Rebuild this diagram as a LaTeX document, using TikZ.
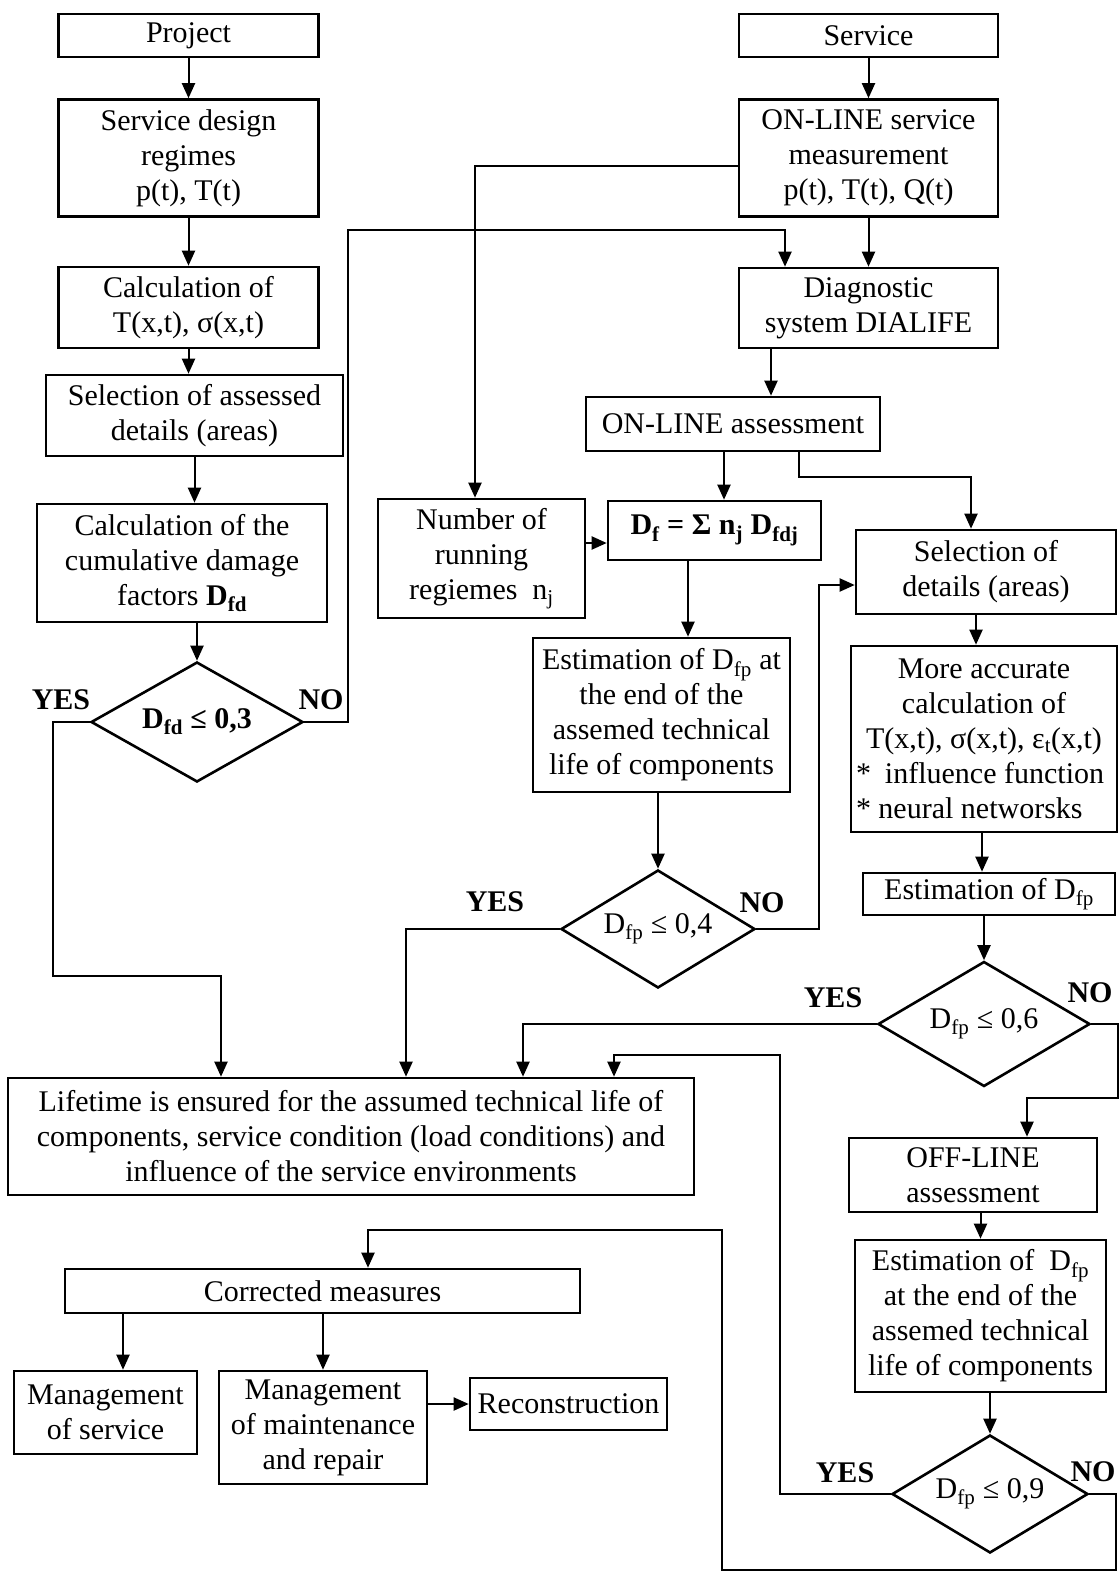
\documentclass[tikz,border=0pt]{standalone}
\usepackage{fontspec}
\setmainfont{Liberation Serif}
\usetikzlibrary{arrows.meta,positioning,calc,shapes.geometric}

\begin{document}
\begin{tikzpicture}[x=1pt,y=-1pt,>={Triangle[length=15pt,width=13pt]},
  font=\fontsize{30}{35}\selectfont,
  box/.style={draw,line width=2.6pt,align=center,inner sep=3pt},
  dec/.style={draw,diamond,line width=2.6pt,inner sep=0pt,aspect=1.6},
  lab/.style={font=\fontsize{30}{35}\selectfont\bfseries},
  arr/.style={->,line width=2pt}]
\useasboundingbox (0,0) rectangle (1119,1574);
\node[box,minimum width=260pt,minimum height=43pt] (project) at (188.5,35.5) {Project};
\node[box,minimum width=260pt,minimum height=117pt] (sdesign) at (188.5,158) {Service design\\regimes\\p(t), T(t)};
\node[box,minimum width=260pt,minimum height=81pt] (calc) at (188.5,307.5) {Calculation of\\T(x,t), σ(x,t)};
\node[box,minimum width=297pt,minimum height=81pt] (selass) at (194.5,415.5) {Selection of assessed\\details (areas)};
\node[box,minimum width=290pt,minimum height=118pt] (cumul) at (182,563) {Calculation of the\\cumulative damage\\factors \textbf{D\textsubscript{fd}}};
\node[dec,minimum width=212pt,minimum height=120pt] (d1) at (197,722) {\textbf{D\textsubscript{fd} ≤ 0,3}};
\node[box,minimum width=259pt,minimum height=43pt] (service) at (868.5,35.5) {Service};
\node[box,minimum width=259pt,minimum height=117pt] (onserv) at (868.5,158) {ON-LINE service\\measurement\\p(t), T(t), Q(t)};
\node[box,minimum width=259pt,minimum height=80pt] (diag) at (868.5,308) {Diagnostic\\system DIALIFE};
\node[box,minimum width=294pt,minimum height=54pt] (onass) at (733,424) {ON-LINE assessment};
\node[box,minimum width=207pt,minimum height=119pt] (nrun) at (481.5,558.5) {Number of\\running\\regiemes~ n\textsubscript{j}};
\node[box,minimum width=213pt,minimum height=59pt] (dsum) at (714.5,530.5) {\textbf{D\textsubscript{f} = Σ n\textsubscript{j} D\textsubscript{fdj}}};
\node[box,minimum width=257pt,minimum height=154pt] (est1) at (661.5,715) {Estimation of D\textsubscript{fp} at\\the end of the\\assemed technical\\life of components};
\node[dec,minimum width=194pt,minimum height=118pt] (d2) at (658,929) {D\textsubscript{fp} ≤ 0,4};
\node[box,minimum width=260pt,minimum height=84pt] (selx) at (986,572) {Selection of\\details (areas)};
\node[box,minimum width=266pt,minimum height=186pt] (more) at (984,739) {More accurate\\calculation of\\T(x,t), σ(x,t), ε\textsubscript{t}(x,t)\\\makebox[256pt][l]{*\hspace{14pt}influence function}\\\makebox[256pt][l]{* neural networsks}};
\node[box,minimum width=252pt,minimum height=42pt] (est2) at (989,894) {Estimation of D\textsubscript{fp}};
\node[dec,minimum width=212pt,minimum height=125pt] (d3) at (984,1024) {D\textsubscript{fp} ≤ 0,6};
\node[box,minimum width=248pt,minimum height=74pt] (offl) at (973,1175) {OFF-LINE\\assessment};
\node[box,minimum width=251pt,minimum height=152pt] (est3) at (980.5,1316) {Estimation of~ D\textsubscript{fp}\\at the end of the\\assemed technical\\life of components};
\node[dec,minimum width=196pt,minimum height=118pt] (d4) at (990,1494) {D\textsubscript{fp} ≤ 0,9};
\node[box,minimum width=686pt,minimum height=117pt] (life) at (351,1136.5) {Lifetime is ensured for the assumed technical life of\\components, service condition (load conditions) and\\influence of the service environments};
\node[box,minimum width=515pt,minimum height=44pt] (corr) at (322.5,1291) {Corrected measures};
\node[box,minimum width=183pt,minimum height=83pt] (msrv) at (105.5,1412.5) {Management\\of service};
\node[box,minimum width=208pt,minimum height=113pt] (mmnt) at (323,1427.5) {Management\\of maintenance\\and repair};
\node[box,minimum width=197pt,minimum height=52pt] (recon) at (568.5,1404) {Reconstruction};
\node[lab] (yes1) at (61,700) {YES};
\node[lab] (no1) at (321,700) {NO};
\node[lab] (yes2) at (495,902) {YES};
\node[lab] (no2) at (762,903) {NO};
\node[lab] (yes3) at (833,998) {YES};
\node[lab] (no3) at (1090,993) {NO};
\node[lab] (yes4) at (845,1473) {YES};
\node[lab] (no4) at (1093,1472) {NO};
\coordinate (railA) at (348,230);
\coordinate (dgin) at ([xshift=-83.5pt]diag.north);
\coordinate (nrin) at ([xshift=-6.5pt]nrun.north);
\coordinate (onout) at ([yshift=-8pt]onserv.west);
\coordinate (dgout) at ([xshift=-97.5pt]diag.south);
\coordinate (dsin) at ([xshift=9.5pt]dsum.north);
\coordinate (railB) at (799,477);
\coordinate (sxin) at ([xshift=-15pt]selx.north);
\coordinate (dsl) at ([yshift=-12.5pt]dsum.west);
\coordinate (dsout) at ([xshift=-26.5pt]dsum.south);
\coordinate (railC) at (819,585);
\coordinate (yes2in) at (406,0);
\coordinate (railD) at (53,976);
\coordinate (yes1in) at (221,0);
\coordinate (sxout) at ([xshift=-10pt]selx.south);
\coordinate (moout) at ([xshift=-2pt]more.south);
\coordinate (yes3in) at (523,0);
\coordinate (railE) at (1118,1098);
\coordinate (ofin) at ([xshift=54pt]offl.north);
\coordinate (railF) at (780,1055);
\coordinate (yes4in) at (614,0);
\coordinate (railG) at (1116,1570);
\coordinate (railH) at (722,1230);
\coordinate (coin) at ([xshift=45.5pt]corr.north);
\coordinate (msin) at ([xshift=17.5pt]msrv.north);
\draw[arr] (project) -- (sdesign);
\draw[arr] (sdesign) -- (calc);
\draw[arr] (calc.south) -- (calc.south |- selass.north);
\draw[arr] (selass.south) -- (selass.south |- cumul.north);
\draw[arr] (d1.north |- cumul.south) -- (d1.north);
\draw[arr] (d1.east) -| (railA) -| (dgin);
\draw[arr] (service) -- (onserv);
\draw[arr] (onserv) -- (diag);
\draw[arr] (onout) -| (nrin);
\draw[arr] (dgout) -- (dgout |- onass.north);
\draw[arr] (dsin |- onass.south) -- (dsin);
\draw[arr] (railB |- onass.south) -- (railB) -| (sxin);
\draw[arr] (dsl -| nrun.east) -- (dsl);
\draw[arr] (dsout) -- (dsout |- est1.north);
\draw[arr] (d2.north |- est1.south) -- (d2.north);
\draw[arr] (d2.east) -| (railC) -- (railC -| selx.west);
\draw[arr] (d2.west) -| (yes2in |- life.north);
\draw[arr] (d1.west) -| (railD) -| (yes1in |- life.north);
\draw[arr] (sxout) -- (sxout |- more.north);
\draw[arr] (moout) -- (moout |- est2.north);
\draw[arr] (d3.north |- est2.south) -- (d3.north);
\draw[arr] (d3.west) -| (yes3in |- life.north);
\draw[arr] (d3.east) -| (railE) -| (ofin);
\draw[arr] (est3.north |- offl.south) -- (est3.north);
\draw[arr] (d4.north |- est3.south) -- (d4.north);
\draw[arr] (d4.west) -| (railF) -| (yes4in |- life.north);
\draw[arr] (d4.east) -| (railG) -| (railH) -| (coin);
\draw[arr] (msin |- corr.south) -- (msin);
\draw[arr] (mmnt.north |- corr.south) -- (mmnt.north);
\draw[arr] (recon.west -| mmnt.east) -- (recon.west);
\end{tikzpicture}
\end{document}
